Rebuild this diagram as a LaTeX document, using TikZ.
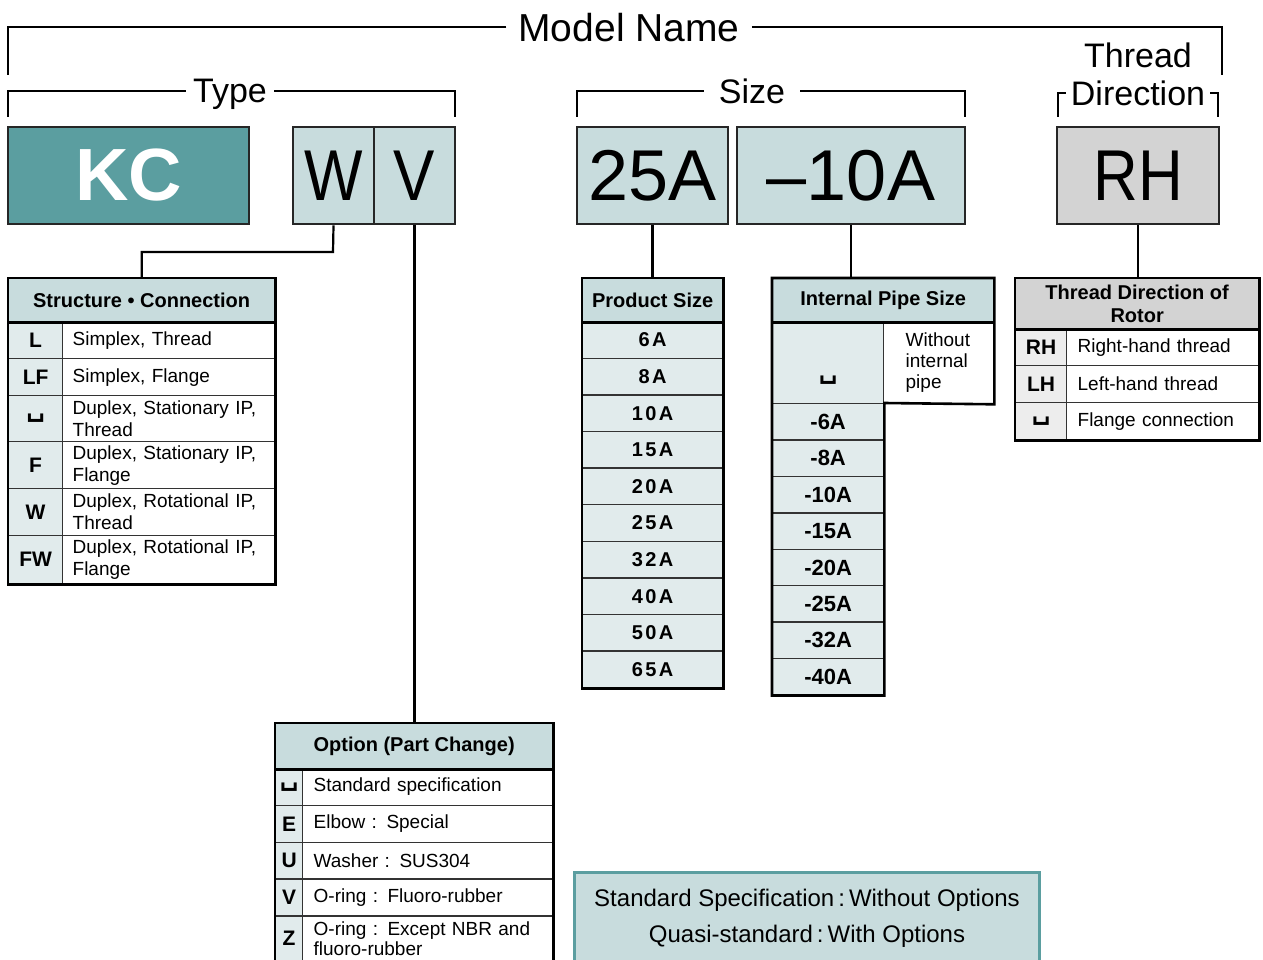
\documentclass[tikz,border=0pt]{standalone}
\usepackage{fontspec}
\setmainfont{Liberation Sans}
\newfontfamily\condfont[FakeStretch=0.86]{Liberation Sans}
\newfontfamily\spacedfont[LetterSpace=12]{Liberation Sans}
\newfontfamily\dvfont{DejaVu Sans}
\newcommand\fsz[2]{\fontsize{#1}{#2}\selectfont}
\newcommand\vspc{{\dvfont\bfseries\fsz{26}{24}␣}}
\definecolor{kcteal}{HTML}{5B9EA0}
\definecolor{hdblue}{HTML}{C8DCDD}
\definecolor{rowblue}{HTML}{E1EBEC}
\definecolor{hdgray}{HTML}{D3D3D3}
\definecolor{rowgray}{HTML}{EDEDED}
\begin{document}
\begin{tikzpicture}[x=1pt, y=-1pt,
	ttl/.style={font=\fsz{34}{40}, inner sep=0pt, inner xsep=7pt, text depth=0pt},
	brk/.style={line width=2.2pt},
	link/.style={line width=2.2pt},
	frame/.style={line width=2.6pt},
	bigbox/.style={draw=black!85, line width=2.6pt, minimum height=97pt, inner sep=0pt},
	hcell/.style={draw=black!80, line width=1.3pt, fill=hdblue, anchor=north west, inner sep=0pt, align=center, font=\bfseries\fsz{20}{23}},
	ccell/.style={draw=black!80, line width=1.3pt, fill=rowblue, anchor=north west, inner sep=0pt, font=\bfseries\fsz{21}{24}},
	pcell/.style={ccell, font=\spacedfont\bfseries\fsz{20}{24}},
	dcell/.style={draw=black!80, line width=1.3pt, fill=white, anchor=north west, inner sep=0pt, inner xsep=10pt, align=left, font=\fsz{19}{22}}]
	\useasboundingbox (0,0) rectangle (1263,960);
	\fill[white] (0,0) rectangle (1263,960);
	\clip (0,0) rectangle (1263,960);

	% brackets
	\node[ttl, font=\fsz{39}{44}, inner xsep=12pt] (mn) at (629,27) {Model Name};
	\draw[brk] (mn.west) -| (8,75);
	\draw[brk] (mn.east) -| (1222,75);
	\node[ttl] (ty) at (230,91) {Type};
	\draw[brk] (ty.west) -| (8,117);
	\draw[brk] (ty.east) -| (455,117);
	\node[ttl, inner xsep=15pt] (sz) at (752,91) {Size};
	\draw[brk] (sz.west) -| (577,117);
	\draw[brk] (sz.east) -| (965,117);
	\node[ttl] (thr) at (1138,55) {Thread};
	\node[ttl, inner xsep=5pt] (dir) at (1138,93) {Direction};
	\draw[brk] (dir.west) -| (1058,117);
	\draw[brk] (dir.east) -| (1218,117);

	% model code
	\node[bigbox, fill=kcteal, minimum width=241, text=white, font=\bfseries\fsz{74}{74}] (kc) at (128.5,175.5) {KC};
	\node[bigbox, fill=hdblue, minimum width=81, font=\condfont\fsz{72}{72}] (w) at (333.5,175.5) {W};
	\node[bigbox, fill=hdblue, minimum width=81, font=\condfont\fsz{72}{72}] (v) at (414.5,175.5) {V};
	\node[bigbox, fill=hdblue, minimum width=151, font=\fsz{72}{72}] (s25) at (652.5,175.5) {25A};
	\node[bigbox, fill=hdblue, minimum width=228, font=\fsz{72}{72}] (s10) at (851,175.5) {–10A};
	\node[bigbox, fill=hdgray, minimum width=162, font=\condfont\fsz{72}{72}] (rh) at (1138,175.5) {RH};

	% structure / connection
	\node[hcell, minimum width=266, minimum height=43] (sc-h) at (8,278) {Structure • Connection};
	\foreach \ya/\ha/\ca/\da [count=\i] in {321/37/L/{Simplex, Thread}, 358/37/LF/{Simplex, Flange}, 395/46/\vspc/{Duplex, Stationary IP,\\Thread}, 441/47/F/{Duplex, Stationary IP,\\Flange}, 488/47/W/{Duplex, Rotational IP,\\Thread}, 535/48/FW/{Duplex, Rotational IP,\\Flange}} {
		\node[ccell, minimum width=54, minimum height=\ha] (sc-c\i) at (8,\ya) {\ca};
		\node[dcell, minimum width=212, text width=192, minimum height=\ha] (sc-d\i) at (62,\ya) {\da};
	}
	\draw[frame] (sc-h.north west) rectangle (sc-d6.south east);
	\draw[frame] (sc-h.south west) -- (sc-h.south east);

	% product size
	\node[hcell, minimum width=140, minimum height=43] (ps-h) at (582,278) {Product Size};
	\foreach \s [count=\i] in {6A,8A,10A,15A,20A,25A,32A,40A,50A,65A}
		\node[pcell, minimum width=140, minimum height=36.6] (ps-\i) at (582,{321+(\i-1)*36.6}) {\s};
	\draw[frame] (ps-h.north west) rectangle (ps-10.south east);
	\draw[frame] (ps-h.south west) -- (ps-h.south east);

	% internal pipe size
	\node[hcell, minimum width=221, minimum height=43] (ip-h) at (772,278) {Internal Pipe Size};
	\node[ccell, minimum width=111, minimum height=82] (ip-0) at (772,321) {};
	\node[font=\bfseries\fsz{21}{24}] (ip-0m) at ([yshift=-18pt]ip-0.center) {\vspc};
	\node[dcell, minimum width=110, text width=66, inner xsep=22pt, minimum height=82, font=\fsz{19}{21}] (ip-0d) at (883,321) {Without\\internal\\pipe};
	\foreach \s [count=\i] in {-6A,-8A,-10A,-15A,-20A,-25A,-32A,-40A}
		\node[ccell, minimum width=111, minimum height=36.4, font=\bfseries\fsz{22}{24}] (ip-\i) at (772,{403+(\i-1)*36.4}) {\s};
	\draw[frame] (ip-h.north west) -- (ip-h.north east) -- (ip-0d.south east) -- (ip-1.north east) -- (ip-8.south east) -- (ip-8.south west) -- cycle;
	\draw[frame] (ip-h.south west) -- (ip-h.south east);

	% thread direction
	\node[hcell, fill=hdgray, minimum width=243, minimum height=50] (td-h) at (1015,278) {Thread Direction of\\Rotor};
	\foreach \ca/\da [count=\i] in {RH/{Right-hand thread}, LH/{Left-hand thread}, \vspc/{Flange connection}} {
		\node[ccell, fill=rowgray, minimum width=51, minimum height=37] (td-c\i) at (1015,{328+(\i-1)*37}) {\ca};
		\node[dcell, minimum width=192, text width=170, inner xsep=11pt, minimum height=37] (td-d\i) at (1066,{328+(\i-1)*37}) {\da};
	}
	\draw[frame] (td-h.north west) rectangle (td-d3.south east);
	\draw[frame] (td-h.south west) -- (td-h.south east);

	% option
	\node[hcell, minimum width=277, minimum height=45] (op-h) at (275,723) {Option (Part Change)};
	\foreach \ya/\ha/\ca/\da [count=\i] in {768/36.8/\vspc/{Standard specification}, 804.8/36.8/E/{Elbow : Special}, 841.6/36.8/U/{Washer : SUS304}, 878.4/36.8/V/{O-ring : Fluoro-rubber}, 915.2/45/Z/{O-ring : Except NBR and\\fluoro-rubber}} {
		\node[ccell, minimum width=27, minimum height=\ha] (op-c\i) at (275,\ya) {\ca};
		\node[dcell, minimum width=250, text width=228, inner xsep=11pt, minimum height=\ha, font=\fsz{19}{20}] (op-d\i) at (302,\ya) {\da};
	}
	\draw[frame] (op-h.north west) rectangle (op-d5.south east);
	\draw[frame] (op-h.south west) -- (op-h.south east);

	% note
	\node[draw=kcteal, line width=3pt, fill=hdblue, anchor=north west, minimum width=465, inner ysep=17pt, align=center, font=\fsz{24}{36}] (note) at (573,871) {Standard Specification\,:\,Without Options\\Quasi-standard\,:\,With Options};

	% links
	\coordinate (wbend) at (333,252);
	\draw[link] (w.south) -- (wbend) -| (sc-h.north);
	\draw[link] (v.south) -- (v.south |- op-h.north);
	\draw[link] (s25.south) -- (s25.south |- ps-h.north);
	\draw[link] (s10.south) -- (s10.south |- ip-h.north);
	\draw[link] (rh.south) -- (rh.south |- td-h.north);
\end{tikzpicture}
\end{document}
